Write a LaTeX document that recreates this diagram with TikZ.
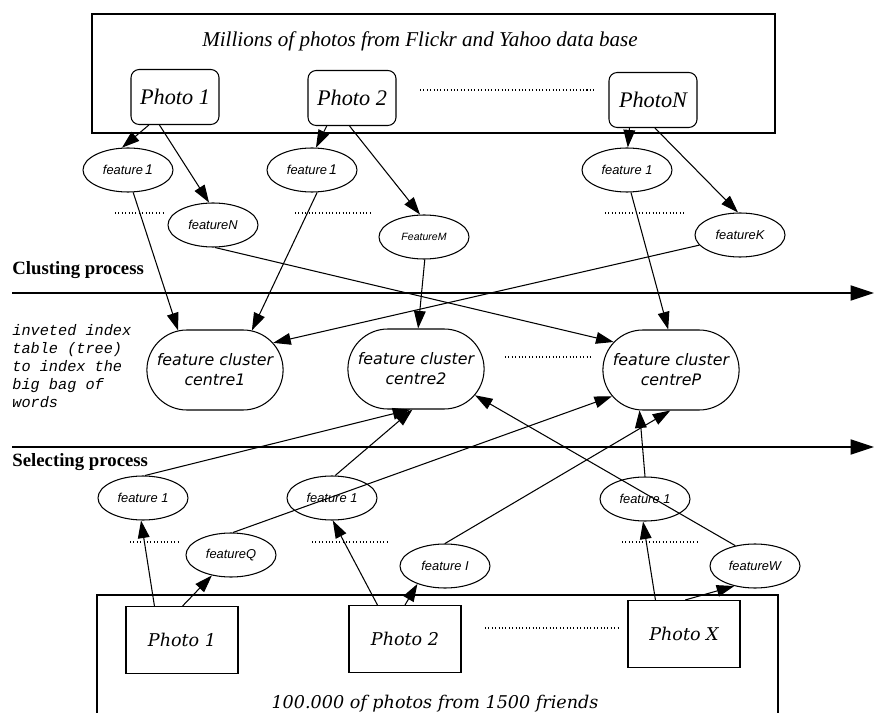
\documentclass[tikz,border=0pt]{standalone}
\usepackage{fontspec}
\setmainfont{Liberation Serif}
\newfontfamily\featfont{Liberation Sans}
\newfontfamily\clufont{DejaVu Sans}
\newfontfamily\boxfont{DejaVu Serif}
\newfontfamily\notefont{Liberation Mono}
\usetikzlibrary{arrows.meta,shapes.geometric,shapes.misc}

\begin{document}
\begin{tikzpicture}[x=0.03cm,y=-0.03cm,line width=0.9pt,
    >={Triangle[length=15pt,width=10pt]},
    topphoto/.style={draw,rounded corners=7pt,minimum width=2.64cm,minimum height=1.65cm,font=\fontsize{19}{22}\selectfont\itshape},
    feat/.style={draw,ellipse,inner sep=0pt,minimum width=2.7cm,minimum height=1.32cm,font=\featfont\fontsize{11}{12}\selectfont\itshape},
    centre/.style={draw,rounded rectangle,minimum width=4.32cm,minimum height=2.4cm,align=center,font=\clufont\fontsize{13.5}{17}\selectfont\itshape},
    photo/.style={draw,minimum width=3.36cm,minimum height=2.01cm,font=\boxfont\fontsize{15}{18}\selectfont\itshape},
    proc/.style={anchor=west,font=\fontsize{16}{19}\selectfont\bfseries},
    dots/.style={dotted,line width=0.9pt}]
    \useasboundingbox (0,0) rectangle (874,713);
    \clip (0,0) rectangle (874,713);
    % flickr side
    \node (flickr) [draw,minimum width=20.49cm,minimum height=3.57cm] at (433.5,73.5) {};
    \node (title) [font=\fontsize{18}{22}\selectfont\itshape] at (420,41) {Millions of photos from Flickr and Yahoo data base};
    \node[topphoto] (p1) at (175,97) {Photo 1};
    \node[topphoto] (p2) at (352,98) {Photo 2};
    \node[topphoto] (pN) at (653,100) {PhotoN};
    \draw[dots] (420,90)--(595,90);
    \node[feat] (f11) at (128,170) {feature\,{\large 1}};
    \node[feat] (fN) at (213,225) {featureN};
    \node[feat] (f12) at (312,170) {feature\,{\large 1}};
    \node[feat] (fM) at (424,237) {\small FeatureM};
    \node[feat] (f13) at (627,170) {feature 1};
    \node[feat] (fK) at (740,235) {featureK};
    \draw[dots] (115,213)--(165,213);
    \draw[dots] (295,213)--(372,213);
    \draw[dots] (605,213)--(685,213);
    \draw[->] (p1.-133)--(f11.105);
    \draw[->] (p1.-119)--(fN.100);
    \draw[->] (p2.-132)--(f12.80);
    \draw[->] (p2.-95)--(fM.100);
    \draw[->] (pN.-130)--(f13.88);
    \draw[->] (pN.-86)--(fK.95);
    % clustering
    \coordinate (cl0) at (12,293);
    \coordinate (cl1) at (874,293);
    \draw[-{Triangle[length=20pt,width=13pt]}] (cl0)--(cl1);
    \node[proc] (clust) at (8,270) {Clusting process};
    \node (note) [anchor=north west,align=left,font=\notefont\fontsize{13}{15.3}\selectfont\itshape] at (8,320)
        {inveted index\\table (tree)\\to index the\\big bag of\\words};
    \node[centre] (c1) at (215,370) {feature cluster\\centre1};
    \node[centre] (c2) at (416,369) {feature cluster\\centre2};
    \node[centre] (cP) at (671,370) {feature cluster\\centreP};
    \draw[dots] (505,357)--(590,357);
    \draw[->] (f11.-77)--(c1.133);
    \draw[->] (f12.-77)--(c1.47);
    \draw[->] (fN.-85)--(cP.154);
    \draw[->] (fM.-88)--(c2.87);
    \draw[->] (fK.194)--(c1.25);
    \draw[->] (f13.-80)--(cP.94);
    % selecting
    \coordinate (se0) at (12,447);
    \coordinate (se1) at (874,447);
    \draw[-{Triangle[length=20pt,width=13pt]}] (se0)--(se1);
    \node[proc] (select) at (8,462) {Selecting process};
    \node[feat] (fa) at (143,498) {feature 1};
    \node[feat] (fQ) at (231,555) {featureQ};
    \node[feat] (fb) at (332,498) {feature 1};
    \node[feat] (fI) at (445,566) {feature I};
    \node[feat] (fc) at (645,499) {feature 1};
    \node[feat] (fW) at (755,566) {featureW};
    \draw[dots] (130,542)--(180,542);
    \draw[dots] (312,542)--(390,542);
    \draw[dots] (622,542)--(700,542);
    \draw[->] (fa.85)--(c2.-98);
    \draw[->] (fb.82)--(c2.-95);
    \draw[->] (fQ.85)--(cP.204);
    \draw[->] (fI.90)--(cP.-91);
    \draw[->] (fc.90)--(cP.-128);
    \draw[->] (fW.134)--(c2.-24);
    % friends side
    \draw (97,730)--(97,595)--(778,595)--(778,730);
    \node (friends) [font=\boxfont\fontsize{15}{18}\selectfont\itshape] at (435,704) {100.000 of photos from 1500 friends};
    \node[photo] (q1) at (182,640) {Photo 1};
    \node[photo] (q2) at (405,639) {Photo 2};
    \node[photo] (qX) at (684,634) {Photo X};
    \draw[dots] (485,628)--(620,628);
    \draw[->] (q1.129)--(fa.-95);
    \draw[->] (q1.89)--(fQ.-133);
    \draw[->] (q2.129)--(fb.-88);
    \draw[->] (q2.90)--(fI.-147);
    \draw[->] (qX.130)--(fc.-95);
    \draw[->] (qX.88)--(fW.-136);
\end{tikzpicture}
\end{document}
